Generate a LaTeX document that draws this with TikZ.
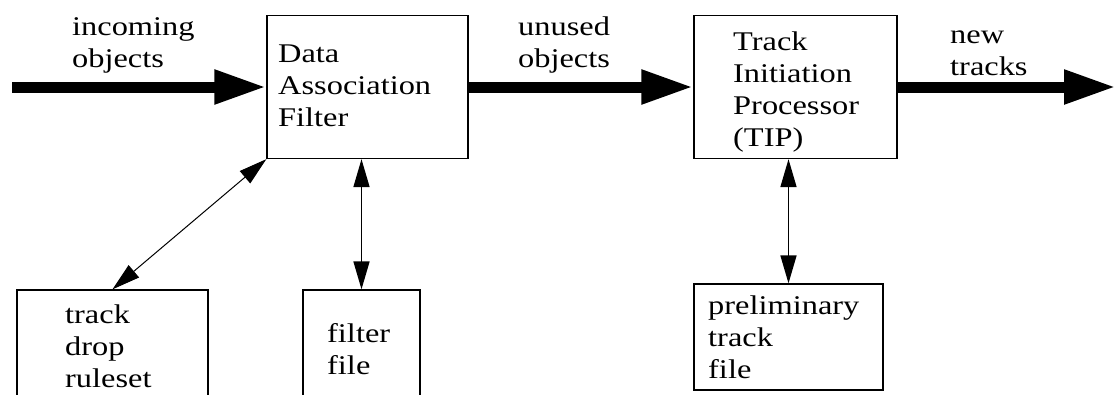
\documentclass[tikz,border=0pt]{standalone}
\usepackage{fontspec}
\setmainfont{Liberation Serif}[FakeStretch=1.2]
\usetikzlibrary{arrows.meta,positioning,calc}

\begin{document}
\begin{tikzpicture}[x=1pt,y=-1pt,
		box/.style={draw, line width=1.3pt, inner sep=0pt},
		lbl/.style={anchor=base west, align=left, inner sep=0pt, font=\fontsize{27}{32}\selectfont},
		flow/.style={line width=11pt, -{Triangle[length=52pt,width=32pt]}},
		link/.style={line width=1.6pt, {Triangle[length=28pt,width=16pt]}-{Triangle[length=28pt,width=16pt]}}]
			\useasboundingbox (0,0) rectangle (1117,394);
			\clip (0,0) rectangle (1117,394);
			
			% Processing boxes
			\node[box, minimum width=201pt, minimum height=143pt] (daf) at (367.5,87) {};
			\node[box, minimum width=203pt, minimum height=143pt] (tip) at (795.5,87) {};
			
			% File boxes (the lower two run past the bottom edge)
			\node[box, minimum width=191pt, minimum height=140pt] (tdr) at (112.5,360) {};
			\node[box, minimum width=117pt, minimum height=140pt] (ff) at (361.5,360) {};
			\node[box, minimum width=189pt, minimum height=106pt] (ptf) at (788.5,337) {};
			
			% Texts (placed by the baseline of their last line)
			\node[lbl] (t-daf) at (278,126) {Data\\Association\\Filter};
			\node[lbl] (t-tip) at (733,146) {Track\\Initiation\\Processor\\(TIP)};
			\node[lbl] (t-tdr) at (65,387) {track\\drop\\ruleset};
			\node[lbl] (t-ff) at (327,374) {filter\\file};
			\node[lbl] (t-ptf) at (708,378) {preliminary\\track\\file};
			\node[lbl] (t-in) at (72,67) {incoming\\objects};
			\node[lbl] (t-un) at (518,67) {unused\\objects};
			\node[lbl] (t-new) at (950,75) {new\\tracks};
			
			% Object flow
			\coordinate (in) at (12,87);
			\coordinate (out) at (1116,87);
			\draw[flow] (in) -- (daf.west);
			\draw[flow] (daf.east) -- (tip.west);
			\draw[flow] (tip.east) -- (out);
			
			% File access
			\draw[link, line width=1pt] (daf.south west) -- (tdr.north);
			\draw[link] (ff.north) -- (ff.north |- daf.south);
			\draw[link] (ptf.north) -- (ptf.north |- tip.south);
		\end{tikzpicture}
\end{document}
